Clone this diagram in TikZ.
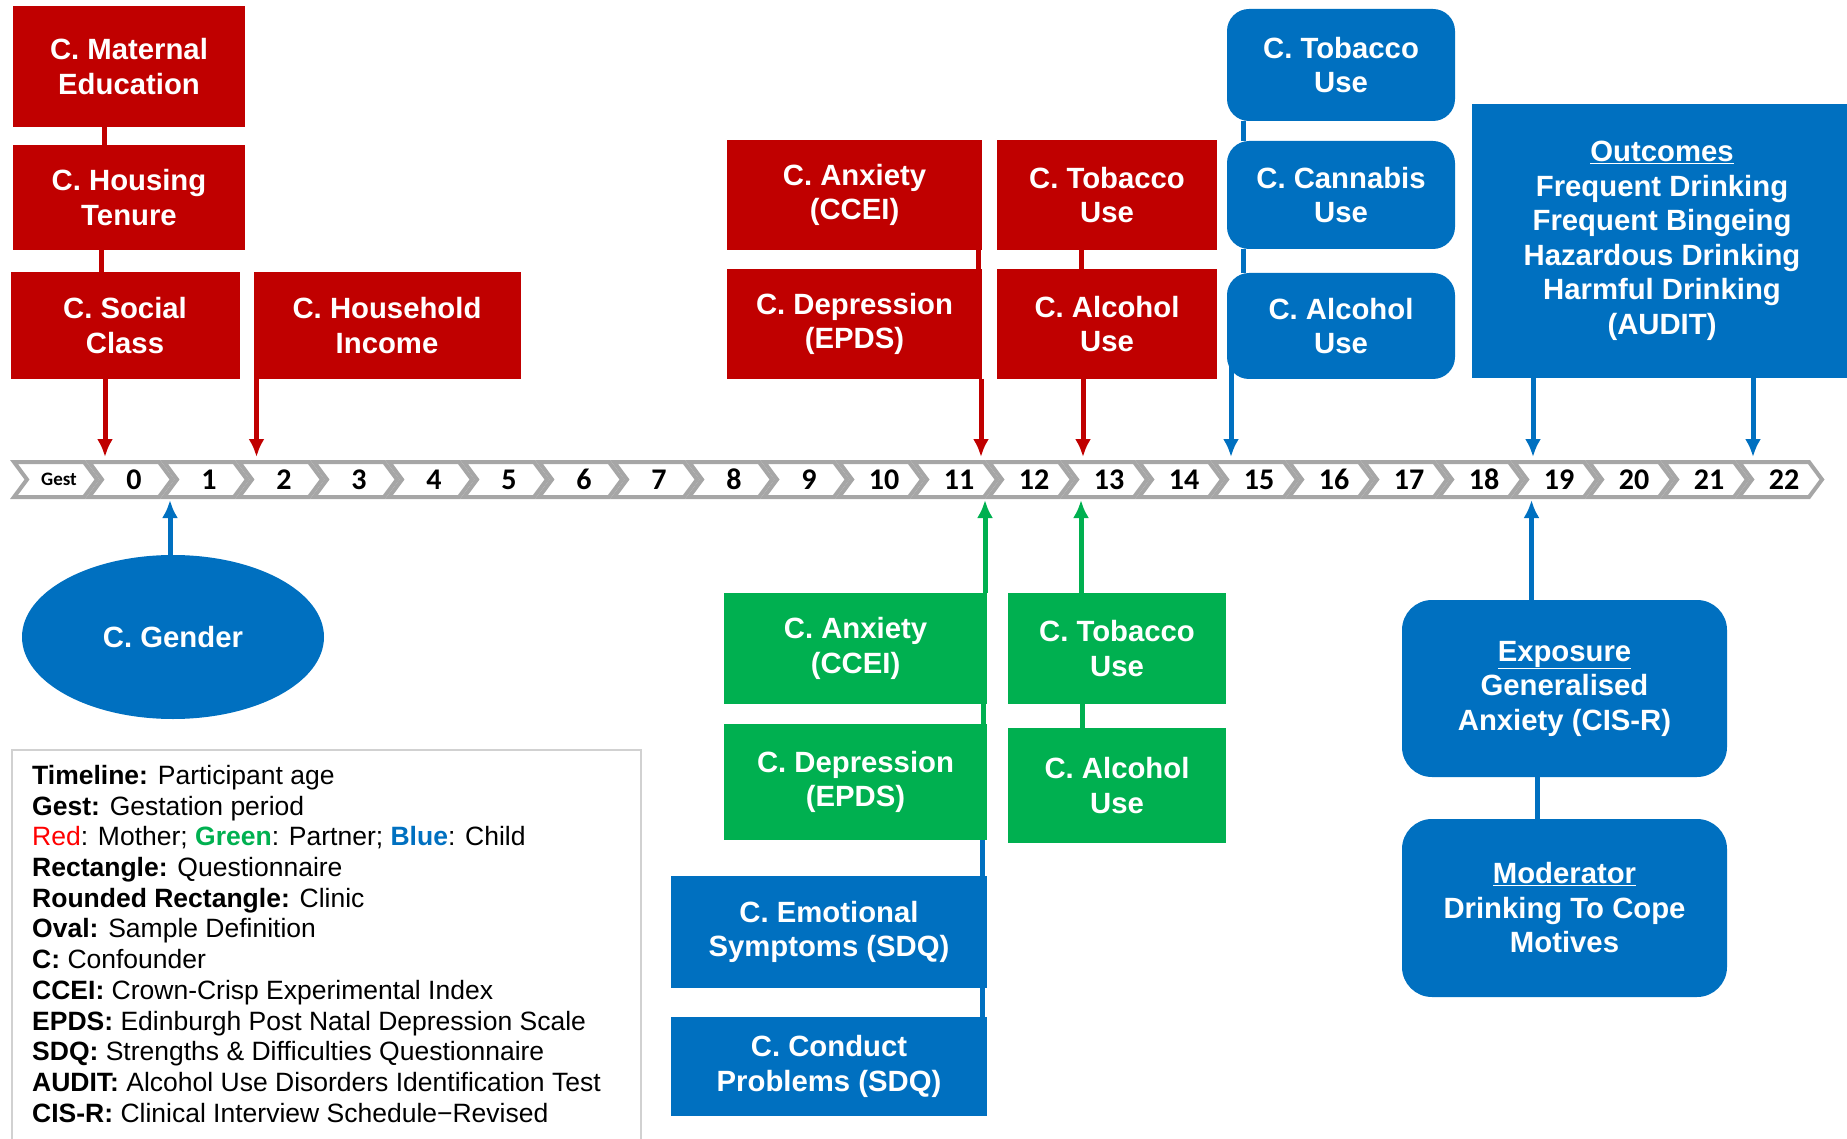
\documentclass[tikz,border=0pt]{standalone}
\usepackage{fontspec}
\setmainfont{Liberation Sans}
\newfontfamily\agefont{Carlito}
\usetikzlibrary{positioning, shapes.geometric, arrows.meta}
\definecolor{momred}{HTML}{C00000}
\definecolor{dadgreen}{HTML}{00B050}
\definecolor{kidblue}{HTML}{0070C0}
\definecolor{keyred}{HTML}{FF0000}
\definecolor{tlgray}{HTML}{A6A6A6}
\newcommand\boxfont{\bfseries\fontsize{29.3}{34.5}\selectfont}

\begin{document}
\begin{tikzpicture}[x=1pt, y=1pt, >={Latex[length=18pt, width=16pt]},
        bx/.style={inner sep=0, outer sep=0, align=center, text=white, font=\boxfont},
        mom/.style={bx, fill=momred},
        dad/.style={bx, fill=dadgreen},
        kid/.style={bx, fill=kidblue},
        kidc/.style={kid, rounded corners=22pt},
        ml/.style={momred, line width=5pt},
        dl/.style={dadgreen, line width=5pt},
        kl/.style={kidblue, line width=5pt},
        seg/.style={draw=tlgray, fill=white, line width=4pt},
        age/.style={inner sep=0, font=\agefont\bfseries\fontsize{30}{30}\selectfont}]
    \useasboundingbox (0,0) rectangle (1847,-1139);

    % timeline
    \coordinate (ttop) at (0,-457);
    \coordinate (tbot) at (0,-500);
    \draw[seg] (14,-462) -- ++(70,0) -- ++(13,-17.5) -- ++(-13,-17.5) -- ++(-70,0) -- ++(13,17.5) -- cycle;
    \node(gest)[age, font=\agefont\bfseries\fontsize{19}{19}\selectfont] at (59,-479.5) {Gest};
    \foreach \a in {0,...,22} {
        \draw[seg] ({89+75*\a},-462) -- ++(70,0) -- ++(13,-17.5) -- ++(-13,-17.5) -- ++(-70,0) -- ++(13,17.5) -- cycle;
        \node(a\a)[age] at ({134+75*\a},-479.5) {\a};
    }

    % mother, early
    \node(mat)[mom, minimum width=232pt, minimum height=121pt] at (129,-66.5) {C. Maternal\\Education};
    \node(hou)[mom, minimum width=232pt, minimum height=105pt, below=18pt of mat] {C. Housing\\Tenure};
    \node(soc)[mom, minimum width=229pt, minimum height=107pt, below=22pt of hou, xshift=-4pt] {C. Social\\Class};
    \node(inc)[mom, minimum width=267pt, minimum height=107pt, right=14pt of soc] {C. Household\\Income};
    \draw[ml] ([xshift=-25pt]mat.south) -- ([xshift=-25pt]hou.north);
    \draw[ml] ([xshift=-28pt]hou.south) -- ([xshift=-24pt]soc.north);
    \draw[ml,->] ([xshift=-20pt]soc.south) -- ([xshift=-20pt]soc.south |- ttop);
    \draw[ml,->] ([xshift=3pt]inc.south west) -- ([xshift=3pt]inc.south west |- ttop);

    % mother, age 11 and 13
    \node(manx)[mom, minimum width=255pt, minimum height=110pt] at (854.5,-195) {C. Anxiety\\(CCEI)};
    \node(mdep)[mom, minimum width=255pt, minimum height=110pt, below=19pt of manx] {C. Depression\\(EPDS)};
    \draw[ml] ([xshift=-4pt]manx.south east) -- ([xshift=-4pt]mdep.north east);
    \draw[ml,->] ([xshift=-1pt]mdep.south east) -- ([xshift=-1pt]mdep.south east |- ttop);
    \node(mtob)[mom, minimum width=220pt, minimum height=110pt] at (1107,-195) {C. Tobacco\\Use};
    \node(malc)[mom, minimum width=220pt, minimum height=110pt, below=19pt of mtob] {C. Alcohol\\Use};
    \draw[ml] ([xshift=-26pt]mtob.south) -- ([xshift=-26pt]malc.north);
    \draw[ml,->] ([xshift=-24pt]malc.south) -- ([xshift=-24pt]malc.south |- ttop);

    % child, age 15
    \node(ctob)[kidc, minimum width=228pt, minimum height=112pt] at (1341,-65) {C. Tobacco\\Use};
    \node(ccan)[kidc, minimum width=228pt, minimum height=108pt, below=20pt of ctob] {C. Cannabis\\Use};
    \node(calc)[kidc, minimum width=228pt, minimum height=106pt, below=24pt of ccan] {C. Alcohol\\Use};
    \draw[kl] ([xshift=16pt]ctob.south west) -- ([xshift=16pt]ccan.north west);
    \draw[kl] ([xshift=16pt]ccan.south west) -- ([xshift=16pt]calc.north west);
    \draw[kl,->] ([xshift=4pt,yshift=40pt]calc.south west) -- ([xshift=4pt]calc.south west |- ttop);

    % outcomes
    \node(outc)[kid, minimum width=380pt, minimum height=274pt] at (1662,-241)
        {\underline{Outcomes}\\Frequent Drinking\\Frequent Bingeing\\Hazardous Drinking\\Harmful Drinking\\(AUDIT)};
    \draw[kl,->] ([xshift=-129pt]outc.south) -- ([xshift=-129pt]outc.south |- ttop);
    \draw[kl,->] ([xshift=91pt]outc.south) -- ([xshift=91pt]outc.south |- ttop);

    % partner
    \node(pan)[dad, minimum width=263pt, minimum height=111pt] at (855.5,-648.5) {C. Anxiety\\(CCEI)};
    \node(pdep)[dad, minimum width=263pt, minimum height=116pt, below=20pt of pan] {C. Depression\\(EPDS)};
    \draw[dl] ([xshift=-4pt]pan.south east) -- ([xshift=-4pt]pdep.north east);
    \draw[dl,->] ([xshift=-2pt]pan.north east) -- ([xshift=-2pt]pan.north east |- tbot);
    \node(ptob)[dad, minimum width=218pt, minimum height=111pt] at (1117,-648.5) {C. Tobacco\\Use};
    \node(palc)[dad, minimum width=218pt, minimum height=115pt, below=24pt of ptob] {C. Alcohol\\Use};
    \draw[dl] ([xshift=-35pt]ptob.south) -- ([xshift=-35pt]palc.north);
    \draw[dl,->] ([xshift=-36pt]ptob.north) -- ([xshift=-36pt]ptob.north |- tbot);

    % child, SDQ
    \node(emo)[kid, minimum width=316pt, minimum height=112pt] at (829,-932) {C. Emotional\\Symptoms (SDQ)};
    \node(cond)[kid, minimum width=316pt, minimum height=99pt, below=29pt of emo] {C. Conduct\\Problems (SDQ)};
    \draw[kl] ([xshift=-5pt]pdep.south east) -- ([xshift=-5pt]emo.north east);
    \draw[kl] ([xshift=-5pt]emo.south east) -- ([xshift=-5pt]cond.north east);

    % exposure and moderator
    \node(expo)[kidc, rounded corners=30pt, minimum width=325pt, minimum height=177pt] at (1564.5,-688.5)
        {\underline{Exposure}\\Generalised\\Anxiety (CIS-R)};
    \node(modr)[kidc, rounded corners=30pt, minimum width=325pt, minimum height=178pt, below=42pt of expo]
        {\underline{Moderator}\\Drinking To Cope\\Motives};
    \draw[kl,->] ([xshift=-33pt]expo.north) -- ([xshift=-33pt]expo.north |- tbot);
    \draw[kl] ([xshift=-27pt]expo.south) -- ([xshift=-27pt]modr.north);

    % sample
    \node(gend)[kid, ellipse, minimum width=302pt, minimum height=164pt] at (173,-637) {C. Gender};
    \draw[kl,->] ([xshift=-3pt]gend.north) -- ([xshift=-3pt]gend.north |- tbot);

    % key
    \draw[black!18, line width=2pt] (12,-750) rectangle (641,-1160);
    \node(key)[anchor=north west, inner sep=0, align=left, font=\fontsize{26.5}{30.7}\selectfont] at (32,-765)
        {\textbf{Timeline:} Participant age\\
         \textbf{Gest:} Gestation period\\
         \textcolor{keyred}{Red}: Mother; \textcolor{dadgreen}{\textbf{Green}}: Partner; \textcolor{kidblue}{\textbf{Blue}}: Child\\
         \textbf{Rectangle:} Questionnaire\\
         \textbf{Rounded Rectangle:} Clinic\\
         \textbf{Oval:} Sample Definition\\
         \textbf{C:} Confounder\\
         \textbf{CCEI:} Crown-Crisp Experimental Index\\
         \textbf{EPDS:} Edinburgh Post Natal Depression Scale\\
         \textbf{SDQ:} Strengths \& Difficulties Questionnaire\\
         \textbf{AUDIT:} Alcohol Use Disorders Identification Test\\
         \textbf{CIS-R:} Clinical Interview Schedule−Revised};
\end{tikzpicture}
\end{document}
